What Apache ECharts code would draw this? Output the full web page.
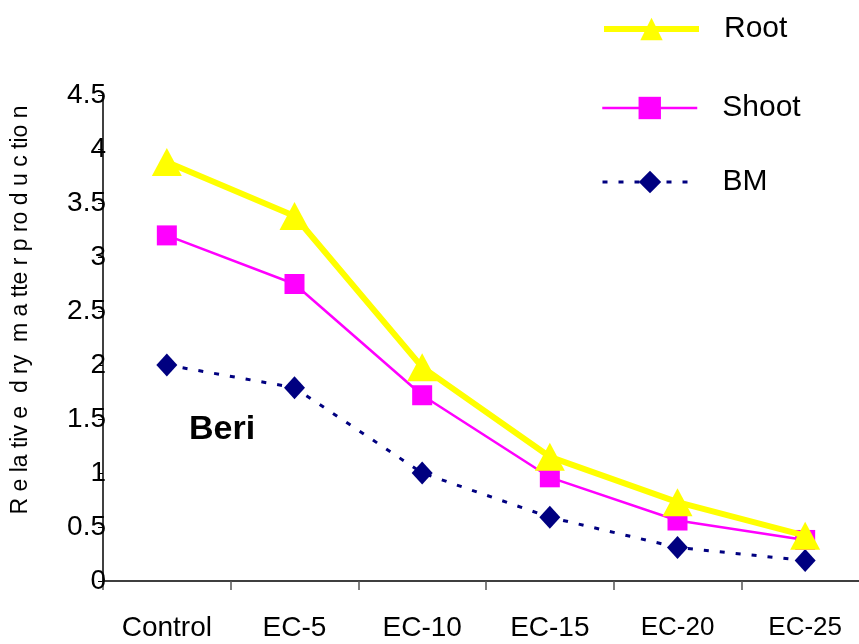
<!DOCTYPE html>
<html>
<head>
<meta charset="utf-8">
<script src="https://cdn.jsdelivr.net/npm/echarts@6/dist/echarts.min.js"></script>
<style>
html,body{margin:0;padding:0;background:#fff;overflow:hidden;}
#chart{width:869px;height:644px;}
</style>
</head>
<body>
<div id="chart"></div>
<script>
const categories = ['Control', 'EC-5', 'EC-10', 'EC-15', 'EC-20', 'EC-25'];
const rootValues = [3.88, 3.38, 1.98, 1.15, 0.73, 0.42];
const shootValues = [3.2, 2.75, 1.72, 0.96, 0.56, 0.38];
const bmValues = [2.0, 1.79, 1.0, 0.59, 0.31, 0.19];
const yTickInterval = 0.5;
const yAxisTitle = 'R e la tiv e  d ry  m a tte r p ro d u c tio n';
const panelLabel = 'Beri';

const FONT = '"Liberation Sans", Arial, sans-serif';
function legendFor(name, top, textShift, lineWidth) {
  return {
    orient: 'vertical',
    left: 601,
    top: top,
    padding: 0,
    itemWidth: 95,
    itemHeight: 28,
    data: [{ name: name, lineStyle: { width: lineWidth } }],
    textStyle: { fontFamily: FONT, fontSize: 30, color: '#000', padding: [0, 0, textShift * 2, 20] }
  };
}
const chart = echarts.init(document.getElementById('chart'));
chart.setOption({
  animation: false,
  backgroundColor: '#ffffff',
  textStyle: { fontFamily: FONT },
  grid: { left: 103, top: 95, right: 0, bottom: 63, containLabel: false },
  legend: [
    legendFor('Root', 14, 8, 6),
    legendFor('Shoot', 93, 4, 2.5),
    legendFor('BM', 167, 10, 3)
  ],
  xAxis: {
    type: 'category',
    data: categories,
    boundaryGap: true,
    axisLine: { lineStyle: { color: '#000', width: 1.5 } },
    axisTick: { show: true, length: 9, lineStyle: { color: '#555', width: 1.5 } },
    axisLabel: {
      interval: 0,
      fontFamily: FONT, fontSize: 28, color: '#000', margin: 33,
      formatter: function (v) { return (v === 'EC-20' || v === 'EC-25') ? '{n|' + v + '}' : v; },
      rich: { n: { fontFamily: FONT, fontSize: 26, color: '#000', padding: [1, 0, 0, 0] } }
    },
    splitLine: { show: false }
  },
  yAxis: {
    type: 'value',
    min: 0,
    max: 4.5,
    interval: yTickInterval,
    axisLine: { show: true, lineStyle: { color: '#000', width: 1.5 } },
    axisTick: { show: true, length: 5, lineStyle: { color: '#000' } },
    axisLabel: { fontFamily: FONT, fontSize: 28, color: '#000', margin: -3 },
    splitLine: { show: false }
  },
  graphic: [
    {
      type: 'text',
      x: 21, y: 310,
      rotation: Math.PI / 2,
      style: { text: yAxisTitle, font: '23px ' + FONT, fill: '#000', textAlign: 'center', textVerticalAlign: 'middle' }
    },
    {
      type: 'text',
      x: 189, y: 430,
      style: { text: panelLabel, font: 'bold 34px ' + FONT, fill: '#000', textAlign: 'left', textVerticalAlign: 'middle' }
    }
  ],
  series: [
    {
      name: 'BM', type: 'line', data: bmValues, z: 2,
      symbol: 'diamond', symbolSize: [21, 23],
      itemStyle: { color: '#000080' },
      lineStyle: { color: '#000080', width: 3, type: [5, 11] }
    },
    {
      name: 'Shoot', type: 'line', data: shootValues, z: 3,
      symbol: 'rect', symbolSize: 20,
      itemStyle: { color: '#FF00FF' },
      lineStyle: { color: '#FF00FF', width: 2.5 }
    },
    {
      name: 'Root', type: 'line', data: rootValues, z: 4,
      symbol: 'triangle', symbolSize: [30, 28],
      itemStyle: { color: '#FFFF00' },
      lineStyle: { color: '#FFFF00', width: 6 }
    }
  ]
});
</script>
</body>
</html>
